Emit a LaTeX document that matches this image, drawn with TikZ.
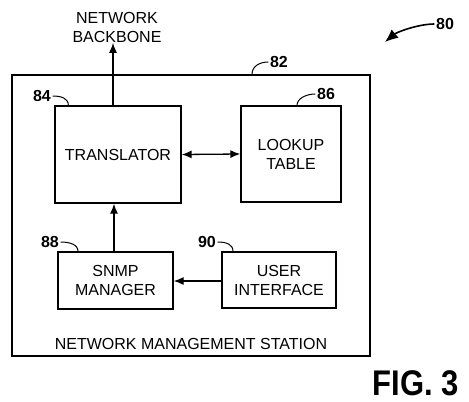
\documentclass[tikz,border=0pt]{standalone}
\usepackage{fontspec}
\setmainfont{Liberation Sans}
\usetikzlibrary{arrows.meta,positioning,calc}

\begin{document}
\begin{tikzpicture}
[x=1pt,y=-1pt,line width=1.3pt,>={Latex[length=10pt,width=8pt]},
 blk/.style={draw,align=center,font=\fontsize{16}{19}\selectfont,inner sep=0pt},
 num/.style={font=\bfseries\fontsize{16}{19}\selectfont,inner sep=1pt},
 lead/.style={line width=1pt}]
      \useasboundingbox (0,0) rectangle (469,402);
      \node[blk,minimum width=358pt,minimum height=281pt] (nms) at (191,215.5) {};
      \node[font=\fontsize{16}{19}\selectfont,inner sep=0pt] (nmstext) [above=6pt of nms.south] {NETWORK MANAGEMENT STATION};
      \node[blk,minimum width=126pt,minimum height=97pt] (trans) at (118,154.5) {TRANSLATOR};
      \node[blk,minimum width=100pt,minimum height=96pt] (lookup) at (291,154) {LOOKUP\\TABLE};
      \node[blk,minimum width=115pt,minimum height=57pt] (snmp) at (115.5,280.5) {SNMP\\MANAGER};
      \node[blk,minimum width=114pt,minimum height=56pt] (ui) at (279,280) {USER\\INTERFACE};
      \node[align=center,font=\fontsize{16}{19}\selectfont,inner sep=0pt] (backbone) at (117,27) {NETWORK\\BACKBONE};
      \node[font=\bfseries\fontsize{31}{36}\selectfont,inner sep=0pt,yscale=1.15] (fig) at (416,383) {FIG. 3};

      % reference numerals
      \node[num] (l80) at (445,24) {80};
      \node[num] (l82) at (279,62) {82};
      \node[num] (l84) at (42,96) {84};
      \node[num] (l86) at (326,94) {86};
      \node[num] (l88) at (50,242) {88};
      \node[num] (l90) at (207,242) {90};
      \coordinate (tip80) at (385,42);

      % connectors
      \draw[->] (trans.north -| 113,0) -- (backbone.south -| 113,0);
      \draw[<->] (trans.east) -- (lookup.west);
      \draw[->] (snmp.north -| 114,0) -- (trans.south -| 114,0);
      \draw[->] (ui.west |- 0,281) -- (snmp.east |- 0,281);

      % leaders
      \draw[lead] (l82.west) .. controls +(-9,0) and +(0,-8) .. (nms.north -| 252,0);
      \draw[lead] (l84.east) .. controls +(9,0) and +(0,-7) .. ($(trans.north west)+(14,0)$);
      \draw[lead] (l86.west) .. controls +(-9,0) and +(0,-7) .. (lookup.north -| 297,0);
      \draw[lead] (l88.east) .. controls +(9,0) and +(0,-7) .. (snmp.north -| 78,0);
      \draw[lead] (l90.east) .. controls +(9,0) and +(0,-7) .. (ui.north -| 233,0);
      \draw[line width=1.6pt,-{Latex[length=13pt,width=11pt]}] (l80.west) .. controls +(-16,0) and +(12,-10) .. (tip80);
\end{tikzpicture}
\end{document}
